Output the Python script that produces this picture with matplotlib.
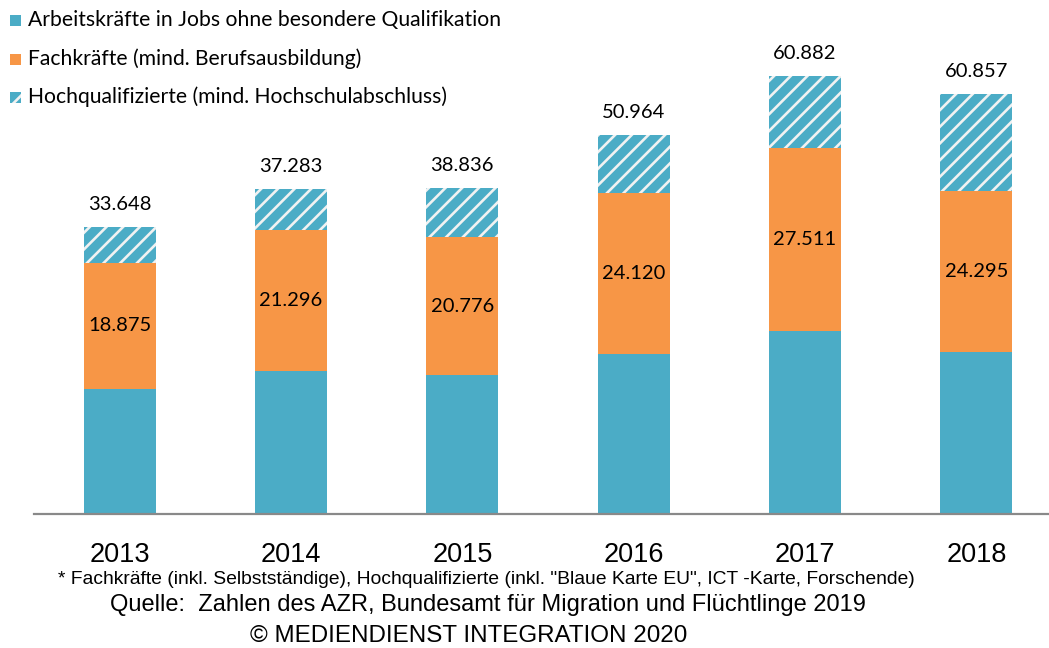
import matplotlib
matplotlib.use("Agg")
import matplotlib.pyplot as plt
from matplotlib.patches import Rectangle

# Werte (blauer Teil ohne Beschriftung, geschätzt)
years = ["2013", "2014", "2015", "2016", "2017", "2018"]
ohne_qualifikation = [18890, 21500, 20900, 24150, 27550, 24400]
fachkraefte = [18875, 21296, 20776, 24120, 27511, 24295]
hochqualifiziert = [5530, 6130, 7440, 8780, 10950, 14610]
gesamt = [33648, 37283, 38836, 50964, 60882, 60857]

legend_labels = ["Arbeitskräfte in Jobs ohne besondere Qualifikation",
                 "Fachkräfte (mind. Berufsausbildung)",
                 "Hochqualifizierte (mind. Hochschulabschluss)"]

BLUE = "#4bacc6"
ORANGE = "#f79646"
STRIPE = "#f2f2f2"
LABEL_FONT = "Lato"
ARIAL = "Liberation Sans"

plt.rcParams["hatch.linewidth"] = 1.9

W, H = 1049, 648
fig = plt.figure(figsize=(W / 100, H / 100), dpi=100)


def fx(px):
    return px / W


def fy(py):
    return 1 - py / H


def fmt(v):
    return f"{v:,}".replace(",", ".")


# axes: baseline at y=514 px, 171.3 px per category
ax = fig.add_axes([fx(34), (H - 514) / H, fx(1028), 464.8 / H])
x = range(len(years))
bw = 0.42
ax.bar(x, ohne_qualifikation, bw, color=BLUE, linewidth=0)
ax.bar(x, fachkraefte, bw, bottom=ohne_qualifikation, color=ORANGE, linewidth=0)
bottom2 = [a + b for a, b in zip(ohne_qualifikation, fachkraefte)]
ax.bar(x, hochqualifiziert, bw, bottom=bottom2, color=BLUE,
       edgecolor=STRIPE, hatch="//", linewidth=0)

ax.set_xlim(-0.5, 5.5)
ax.set_ylim(0, 70000)

for i in x:
    mid = ohne_qualifikation[i] + fachkraefte[i] / 2
    ax.text(i, mid, fmt(fachkraefte[i]), ha="center", va="center",
            fontsize=14.5, family=LABEL_FONT, color="black")
    top = bottom2[i] + hochqualifiziert[i]
    ax.annotate(fmt(gesamt[i]), (i, top), xytext=(0, 16),
                textcoords="offset points", ha="center", va="center",
                fontsize=14.5, family=LABEL_FONT, color="black")

for s in ["top", "left", "right"]:
    ax.spines[s].set_visible(False)
ax.spines["bottom"].set_color("#898989")
ax.spines["bottom"].set_linewidth(1.6)
ax.set_yticks([])
ax.set_xticks(list(x))
ax.set_xticklabels(years, fontsize=19.5, family=ARIAL)
ax.tick_params(axis="x", length=0, pad=20)

# legende oben links
legend_y = [20, 59, 97]
legend_styles = [dict(facecolor=BLUE), dict(facecolor=ORANGE),
                 dict(facecolor=BLUE, edgecolor=STRIPE, hatch="//")]
for lab, yy, st in zip(legend_labels, legend_y, legend_styles):
    fig.patches.append(Rectangle((fx(10), fy(yy + 5.5)), fx(11), 11 / H,
                                 transform=fig.transFigure, linewidth=0, **st))
    fig.text(fx(28), fy(yy), lab, ha="left", va="center", fontsize=15.2,
             family=LABEL_FONT)

fig.text(fx(486), fy(579), '* Fachkräfte (inkl. Selbstständige), Hochqualifizierte '
         '(inkl. "Blaue Karte EU", ICT -Karte, Forschende)',
         ha="center", va="center", fontsize=13.9, family=ARIAL)
fig.text(fx(488), fy(605), "Quelle:  Zahlen des AZR, Bundesamt für Migration und Flüchtlinge 2019",
         ha="center", va="center", fontsize=17, family=ARIAL)
fig.text(fx(469), fy(636), "© MEDIENDIENST INTEGRATION 2020",
         ha="center", va="center", fontsize=17.4, family=ARIAL)

fig.savefig("out.png", dpi=100)
